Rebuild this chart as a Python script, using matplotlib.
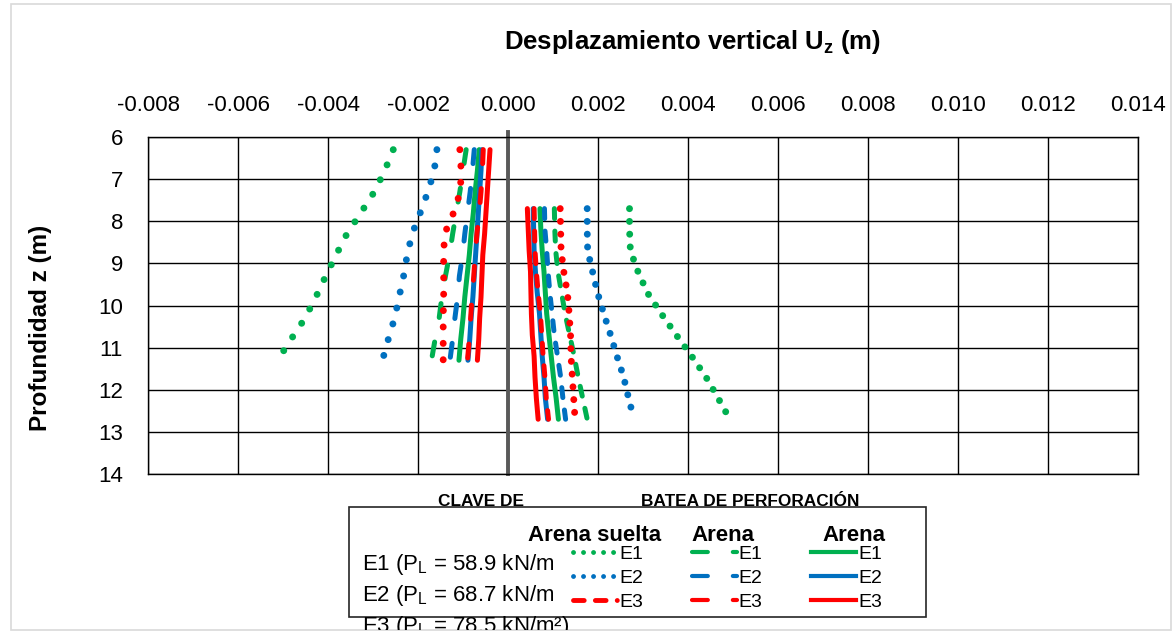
import matplotlib
matplotlib.use("Agg")
import matplotlib.pyplot as plt
from matplotlib.lines import Line2D
from matplotlib.patches import Rectangle
from matplotlib.transforms import Bbox, TransformedBbox

# ---- data (m) -------------------------------------------------------------
z_clave = [6.3, 6.8, 7.3, 7.8, 8.3, 8.8, 9.3, 9.8, 10.3, 10.8, 11.3]
z_batea = [7.7, 8.2, 8.7, 9.2, 9.7, 10.2, 10.7, 11.2, 11.7, 12.2, 12.7]

# clave (crown) - arena suelta / arena (dashed) / arena (solid)
clave_suelta = {
    "E1": [-0.00255, -0.00274, -0.00297, -0.00327, -0.00358, -0.00382, -0.00405, -0.00427, -0.00451, -0.00482, -0.00512],
    "E2": [-0.00158, -0.00164, -0.00178, -0.00195, -0.00213, -0.00224, -0.00232, -0.00242, -0.00252, -0.00266, -0.00279],
    "E3": [-0.00107, -0.00104, -0.00106, -0.00121, -0.00141, -0.00143, -0.00143, -0.00143, -0.00144, -0.00144, -0.00144],
}
clave_media = {
    "E1": [-0.00093, -0.00100, -0.00107, -0.00115, -0.00123, -0.00130, -0.00139, -0.00147, -0.00153, -0.00162, -0.00170],
    "E2": [-0.00075, -0.00079, -0.00084, -0.00090, -0.00096, -0.00101, -0.00108, -0.00112, -0.00118, -0.00123, -0.00129],
    "E3": [-0.00055, -0.00057, -0.00060, -0.00064, -0.00069, -0.00073, -0.00076, -0.00080, -0.00083, -0.00086, -0.00090],
}
clave_densa = {
    "E1": [-0.00064, -0.00068, -0.00073, -0.00077, -0.00082, -0.00086, -0.00091, -0.00096, -0.00100, -0.00105, -0.00109],
    "E2": [-0.00058, -0.00060, -0.00063, -0.00066, -0.00069, -0.00072, -0.00075, -0.00078, -0.00082, -0.00085, -0.00089],
    "E3": [-0.00040, -0.00043, -0.00046, -0.00049, -0.00052, -0.00056, -0.00058, -0.00060, -0.00063, -0.00065, -0.00068],
}

# batea (invert) of the tunnel
batea_suelta = {
    "E1": [0.00270, 0.00270, 0.00272, 0.00289, 0.00310, 0.00341, 0.00374, 0.00408, 0.00440, 0.00467, 0.00493],
    "E2": [0.00176, 0.00176, 0.00177, 0.00188, 0.00199, 0.00213, 0.00228, 0.00242, 0.00257, 0.00268, 0.00280],
    "E3": [0.00116, 0.00117, 0.00118, 0.00124, 0.00132, 0.00136, 0.00139, 0.00140, 0.00143, 0.00146, 0.00149],
}
batea_media = {
    "E1": [0.00103, 0.00104, 0.00106, 0.00111, 0.00119, 0.00127, 0.00137, 0.00147, 0.00156, 0.00166, 0.00176],
    "E2": [0.00081, 0.00082, 0.00086, 0.00089, 0.00093, 0.00098, 0.00103, 0.00110, 0.00117, 0.00122, 0.00128],
    "E3": [0.00058, 0.00059, 0.00060, 0.00063, 0.00067, 0.00072, 0.00075, 0.00078, 0.00082, 0.00085, 0.00090],
}
batea_densa = {
    "E1": [0.00071, 0.00073, 0.00076, 0.00080, 0.00083, 0.00086, 0.00091, 0.00096, 0.00101, 0.00107, 0.00112],
    "E2": [0.00056, 0.00057, 0.00058, 0.00061, 0.00065, 0.00070, 0.00073, 0.00076, 0.00080, 0.00083, 0.00088],
    "E3": [0.00043, 0.00045, 0.00047, 0.00050, 0.00051, 0.00052, 0.00054, 0.00058, 0.00060, 0.00063, 0.00067],
}

cases = ["E1", "E2", "E3"]
case_labels = ["E1 (P$_\\mathrm{L}$ = 58.9 kN/m²)", "E2 (P$_\\mathrm{L}$ = 68.7 kN/m²)", "E3 (P$_\\mathrm{L}$ = 78.5 kN/m²)"]
x_ticks = [-0.008, -0.006, -0.004, -0.002, 0.0, 0.002, 0.004, 0.006, 0.008, 0.010, 0.012, 0.014]
y_ticks = [6, 7, 8, 9, 10, 11, 12, 13, 14]

# ---- style ----------------------------------------------------------------
plt.rcParams.update({
    "font.family": ["Liberation Sans", "DejaVu Sans"],
    "mathtext.fontset": "custom",
    "mathtext.rm": "Liberation Sans",
    "mathtext.bf": "Liberation Sans:bold",
    "mathtext.it": "Liberation Sans:italic",
    "axes.unicode_minus": False,
})
COLORS = {"E1": "#00B050", "E2": "#0070C0", "E3": "#FF0000"}
W, H = 1175, 634


def fx(px):
    return px / W


def fy(py):
    return 1 - py / H


fig = plt.figure(figsize=(W / 100, H / 100), dpi=100)
ax = fig.add_axes([fx(148), fy(474), fx(1138) - fx(148), fy(137) - fy(474)])

groups = [
    (z_clave, clave_suelta, clave_media, clave_densa, (0, (0.01, 2.35)), (0, (2.8, 5.0))),
    (z_batea, batea_suelta, batea_media, batea_densa, (0, (0.01, 1.83)), (0, (2.0, 2.5))),
]
for z, suelta, media, densa, dot_ls, dash_ls in groups:
    for e in cases:
        c = COLORS[e]
        ax.plot(suelta[e], z, color=c, lw=5, linestyle=dot_ls, dash_capstyle="round", zorder=3)
        ax.plot(media[e], z, color=c, lw=3.6, linestyle=dash_ls, dash_capstyle="round", zorder=3)
        ax.plot(densa[e], z, color=c, lw=3.6, solid_capstyle="round", zorder=3)

ax.set_xlim(x_ticks[0], x_ticks[-1])
ax.set_ylim(y_ticks[-1], y_ticks[0])
ax.xaxis.tick_top()
ax.set_xticks(x_ticks)
ax.set_xticklabels([f"{v:.3f}" for v in x_ticks])
ax.set_yticks(y_ticks)
ax.tick_params(axis="both", length=0, labelsize=16)
ax.tick_params(axis="x", pad=15)
ax.tick_params(axis="y", pad=18)
ax.grid(True, color="black", lw=1.0)
ax.set_axisbelow(True)
for sp in ax.spines.values():
    sp.set_color("black")
    sp.set_linewidth(1.0)
ax.axvline(0, color="#595959", lw=2.8, ymax=1.015, clip_on=False, zorder=2)

# ---- texts ----------------------------------------------------------------
fig.text(fx(692), fy(42), "Desplazamiento vertical U$_\\mathbf{z}$ (m)", ha="center", va="center",
         fontsize=18.5, fontweight="bold")
fig.text(fx(41), fy(328), "Profundidad z (m)", rotation=90, ha="center", va="center",
         fontsize=17.5, fontweight="bold")

# legend frame
fig.patches.append(Rectangle((fx(349), fy(617)), fx(926) - fx(349), fy(507) - fy(617), fill=False,
                             ec="#262626", lw=1.2, transform=fig.transFigure, zorder=1))
fig.text(fx(481), fy(501), "CLAVE DE", ha="center", va="center", fontsize=12.4, fontweight="bold", zorder=5)
fig.text(fx(750), fy(501), "BATEA DE PERFORACIÓN", ha="center", va="center", fontsize=12.4,
         fontweight="bold", zorder=5)


def clip(t, x0, y0, x1, y1):
    t.set_clip_box(TransformedBbox(Bbox.from_extents(fx(x0), fy(y1), fx(x1), fy(y0)), fig.transFigure))
    t.set_clip_on(True)


for txt, xc in [("Arena suelta", 595), ("Arena", 723), ("Arena", 854)]:
    t = fig.text(fx(xc), fy(541), txt, ha="center", va="baseline", fontsize=16, fontweight="bold")
    clip(t, 349, 500, 926, 541)

for i, (lab, yb) in enumerate(zip(case_labels, [570, 601, 632])):
    t = fig.text(fx(362), fy(yb), lab, ha="left", va="baseline", fontsize=16)
    if i < 2:
        clip(t, 340, 540, 553, 620)
    else:
        clip(t, 340, 600, 900, 630)

handles = []
for e in cases:
    ls = (0, (0.01, 2.05)) if e != "E3" else (0, (2.2, 2.3, 2.2, 2.3, 0.01, 10))
    handles.append(Line2D([], [], color=COLORS[e], lw=3.5, linestyle=ls, dash_capstyle="round"))
for e in cases:
    handles.append(Line2D([], [], color=COLORS[e], lw=3.0, linestyle=(0, (3.8, 6.0)), dash_capstyle="round"))
for e in cases:
    handles.append(Line2D([], [], color=COLORS[e], lw=3.0))
fig.legend(handles, cases * 3, ncol=3, loc="upper left", bbox_to_anchor=(fx(573), fy(545.5)),
           frameon=False, fontsize=14, handlelength=2.3, handletextpad=0.1, columnspacing=2.5,
           labelspacing=0.33, borderpad=0, borderaxespad=0)

# chart area border
fig.patches.append(Rectangle((fx(11), fy(630)), fx(1171) - fx(11), fy(4) - fy(630), fill=False,
                             ec="#D9D9D9", lw=1.2, transform=fig.transFigure, zorder=0))

fig.savefig("out.png", dpi=100)
